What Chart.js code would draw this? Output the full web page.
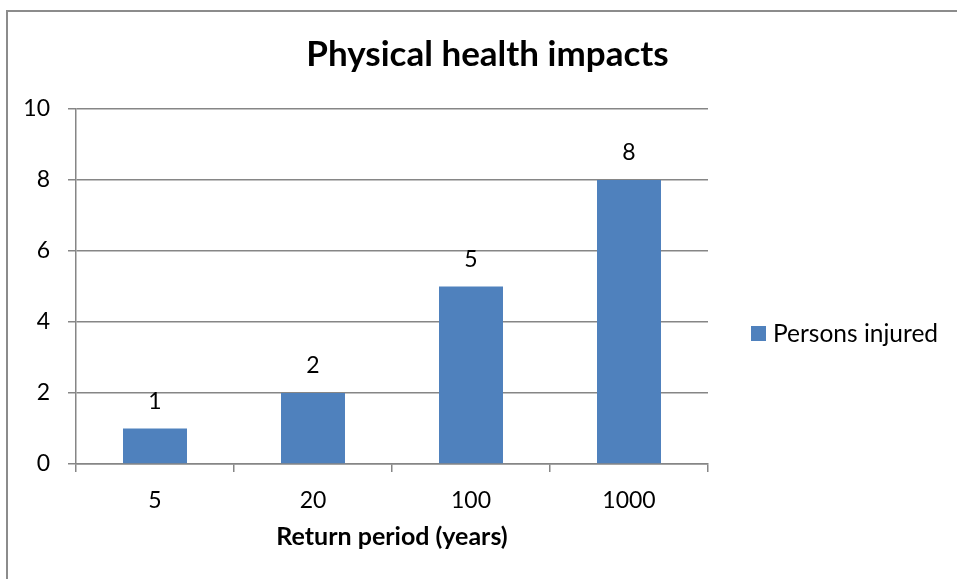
<!DOCTYPE html>
<html>
<head>
<meta charset="utf-8">
<script src="https://cdn.jsdelivr.net/npm/chart.js@4.4.1/dist/chart.umd.min.js"></script>
<style>
  html, body { margin: 0; padding: 0; background: #fff; }
  #wrap { position: relative; width: 957px; height: 579px; }
</style>
</head>
<body>
<div id="wrap"><canvas id="barChart" width="957" height="579"></canvas></div>
<script>
// chart values
var categories = ['5', '20', '100', '1000'];
var personsInjured = [1, 2, 5, 8];
var yTicks = [0, 2, 4, 6, 8, 10];

var seriesName = 'Persons injured';
var chartTitle = 'Physical health impacts';
var xTitle = 'Return period (years)';

var FONT = 'Lato, "Open Sans", sans-serif';
var BAR_BLUE = '#4f81bd';
var AXIS_GREY = '#868686';

// frame (top + left only, the picture is cut off on the other sides)
var framePlugin = {
	id: 'frame',
	beforeDraw: function (chart) {
		var ctx = chart.ctx;
		ctx.save();
		ctx.strokeStyle = '#8c8c8c';
		ctx.lineWidth = 2;
		ctx.beginPath();
		ctx.moveTo(7, 579);
		ctx.lineTo(7, 11);
		ctx.lineTo(957, 11);
		ctx.stroke();
		ctx.restore();
	}
};

// value labels above bars
var valueLabels = {
	id: 'valueLabels',
	afterDatasetsDraw: function (chart) {
		var ctx = chart.ctx;
		ctx.save();
		ctx.font = '23px ' + FONT;
		ctx.fillStyle = '#000';
		ctx.textAlign = 'center';
		ctx.textBaseline = 'middle';
		chart.getDatasetMeta(0).data.forEach(function (bar, i) {
			ctx.fillText(String(personsInjured[i]), bar.x, bar.y - 27);
		});
		ctx.restore();
	}
};

// legend on the right, excel style
var sideLegend = {
	id: 'sideLegend',
	afterDraw: function (chart) {
		var ctx = chart.ctx;
		ctx.save();
		ctx.fillStyle = BAR_BLUE;
		ctx.fillRect(751, 326, 15, 15);
		ctx.font = '24.5px ' + FONT;
		ctx.fillStyle = '#000';
		ctx.textAlign = 'left';
		ctx.textBaseline = 'middle';
		ctx.fillText(seriesName, 773, 334);
		ctx.restore();
	}
};

var barChartCanvas = document.getElementById('barChart').getContext('2d');

var barChart = new Chart(barChartCanvas, {
	type: 'bar',
	data: {
		labels: categories,
		datasets: [
			{
				label: seriesName,
				data: personsInjured,
				backgroundColor: BAR_BLUE,
				borderWidth: 0,
				categoryPercentage: 1,
				barPercentage: 0.405
			}
		]
	},
	options: {
		responsive: false,
		animation: false,
		layout: {
			padding: { left: 18, right: 0, top: 0, bottom: 0 }
		},
		plugins: {
			legend: { display: false },
			tooltip: { enabled: false },
			title: {
				display: true,
				text: chartTitle,
				color: '#000',
				font: { family: FONT, size: 35, weight: 'bold' },
				padding: { top: 34, bottom: 33 }
			}
		},
		scales: {
			x: {
				offset: true,
				grid: {
					offset: true,
					drawOnChartArea: false,
					drawTicks: true,
					tickLength: 8,
					color: AXIS_GREY,
					lineWidth: 1.5
				},
				border: { color: AXIS_GREY, width: 1.5 },
				ticks: {
					color: '#000',
					font: { family: FONT, size: 23 },
					padding: 15,
					maxRotation: 0
				},
				title: {
					display: true,
					text: xTitle,
					color: '#000',
					font: { family: FONT, size: 25, weight: 'bold' },
					padding: { top: 0, bottom: 27 }
				},
				afterFit: function (scale) { scale.height = 579 - 464; }
			},
			y: {
				min: 0,
				max: 10,
				afterBuildTicks: function (scale) {
					scale.ticks = yTicks.map(function (v) { return { value: v }; });
				},
				grid: {
					drawTicks: true,
					tickLength: 8,
					color: AXIS_GREY,
					lineWidth: 1.5
				},
				border: { color: AXIS_GREY, width: 1.5 },
				ticks: {
					color: '#000',
					font: { family: FONT, size: 23 },
					padding: 18
				},
				afterFit: function (scale) { scale.width = 76 - 18; }
			},
			// empty box that keeps the legend column free on the right
			legendSpace: {
				type: 'linear',
				position: 'right',
				display: true,
				grid: { display: false, drawTicks: false },
				border: { display: false },
				ticks: { display: false },
				afterFit: function (scale) { scale.width = 957 - 708; }
			}
		}
	},
	plugins: [framePlugin, valueLabels, sideLegend]
});
</script>
</body>
</html>
